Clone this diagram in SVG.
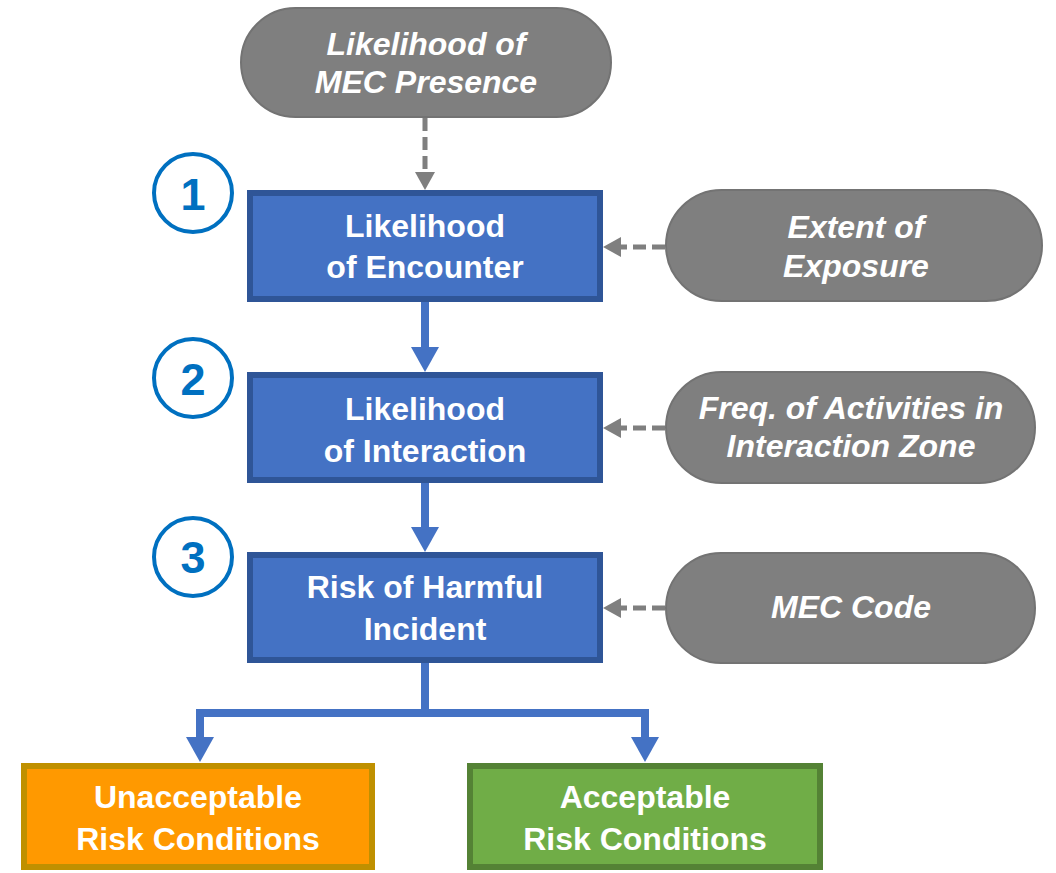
<svg xmlns="http://www.w3.org/2000/svg" width="1056" height="873" viewBox="0 0 1056 873">
<defs>
<style>
.box{fill:#4472C4;stroke:#2F5597;stroke-width:6}
.pill{fill:#7F7F7F;stroke:#737373;stroke-width:2}
.bt{font-family:"Liberation Sans",Arial,sans-serif;font-weight:bold;font-size:32px;fill:#fff;text-anchor:middle}
.gt{font-family:"Liberation Sans",Arial,sans-serif;font-weight:bold;font-style:italic;font-size:32px;fill:#fff;text-anchor:middle}
.num{font-family:"Liberation Sans",Arial,sans-serif;font-weight:bold;font-size:45px;fill:#0070C0;text-anchor:middle}
.circ{fill:#fff;stroke:#0070C0;stroke-width:4}
.blue{fill:none;stroke:#4472C4;stroke-width:8;marker-end:url(#ab)}
.dash{fill:none;stroke:#7F7F7F;stroke-width:5;stroke-dasharray:13 6;marker-end:url(#ag)}
</style>
<marker id="ab" markerUnits="userSpaceOnUse" markerWidth="25" markerHeight="28" refX="0" refY="14" orient="auto" viewBox="0 0 25 28"><path d="M0,0 L25,14 L0,28 Z" fill="#4472C4"/></marker>
<marker id="ag" markerUnits="userSpaceOnUse" markerWidth="18" markerHeight="20" refX="0" refY="10" orient="auto" viewBox="0 0 18 20"><path d="M0,0 L18,10 L0,20 Z" fill="#7F7F7F"/></marker>
</defs>
<rect width="1056" height="873" fill="#fff"/>
<g id="connectors">
<path class="dash" d="M425,118 V172"/>
<path class="dash" d="M665,247 H621"/>
<path class="dash" d="M665,428 H621"/>
<path class="dash" d="M665,608 H621"/>
<path class="blue" d="M425,302 V347"/>
<path class="blue" d="M425,483 V527"/>
<path class="blue" d="M425,663 V713 H200 V737"/>
<path class="blue" d="M425,713 H645 V737"/>
</g>
<g id="mec-presence">
<rect class="pill" x="241" y="8" width="370" height="109" rx="54.5"/>
<text class="gt" x="426" y="55">Likelihood of</text>
<text class="gt" x="426" y="93">MEC Presence</text>
</g>
<g id="step1">
<circle class="circ" cx="193" cy="193" r="39"/>
<text class="num" x="193" y="210">1</text>
</g>
<g id="encounter">
<rect class="box" x="250" y="193" width="350" height="106"/>
<text class="bt" x="425" y="237">Likelihood</text>
<text class="bt" x="425" y="278">of Encounter</text>
</g>
<g id="exposure">
<rect class="pill" x="666" y="190" width="376" height="111" rx="55.5"/>
<text class="gt" x="856" y="238">Extent of</text>
<text class="gt" x="856" y="277">Exposure</text>
</g>
<g id="step2">
<circle class="circ" cx="193" cy="378" r="39"/>
<text class="num" x="193" y="395">2</text>
</g>
<g id="interaction">
<rect class="box" x="250" y="375" width="350" height="105"/>
<text class="bt" x="425" y="420">Likelihood</text>
<text class="bt" x="425" y="462">of Interaction</text>
</g>
<g id="frequency">
<rect class="pill" x="666" y="372" width="369" height="111" rx="55.5"/>
<text class="gt" x="851" y="419">Freq. of Activities in</text>
<text class="gt" x="851" y="457">Interaction Zone</text>
</g>
<g id="step3">
<circle class="circ" cx="193" cy="557" r="39"/>
<text class="num" x="193" y="573">3</text>
</g>
<g id="harmful">
<rect class="box" x="250" y="555" width="350" height="105"/>
<text class="bt" x="425" y="598">Risk of Harmful</text>
<text class="bt" x="425" y="640">Incident</text>
</g>
<g id="mec-code">
<rect class="pill" x="666" y="553" width="369" height="110" rx="55"/>
<text class="gt" x="851" y="618">MEC Code</text>
</g>
<g id="unacceptable">
<rect x="24" y="766" width="348" height="101" fill="#FF9900" stroke="#BF9000" stroke-width="6"/>
<text class="bt" x="198" y="808">Unacceptable</text>
<text class="bt" x="198" y="850">Risk Conditions</text>
</g>
<g id="acceptable">
<rect x="470" y="766" width="350" height="101" fill="#70AD47" stroke="#548235" stroke-width="6"/>
<text class="bt" x="645" y="808">Acceptable</text>
<text class="bt" x="645" y="850">Risk Conditions</text>
</g>
</svg>
